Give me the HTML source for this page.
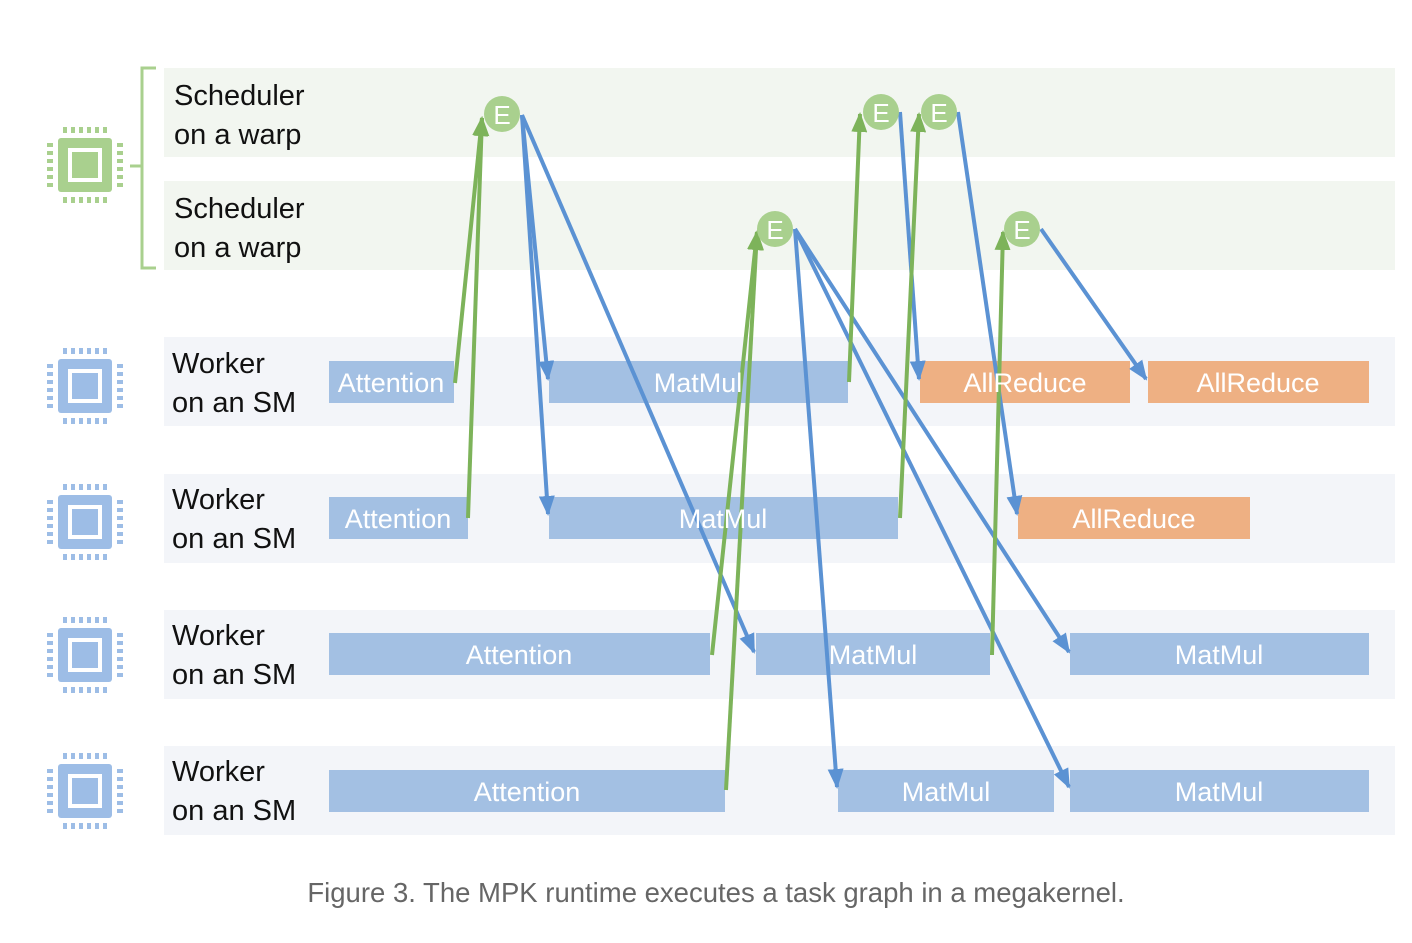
<!DOCTYPE html>
<html><head><meta charset="utf-8"><style>
body{margin:0;background:#fff;}
svg text{font-family:"Liberation Sans",sans-serif;}
</style></head><body>
<svg width="1412" height="938" viewBox="0 0 1412 938" xmlns="http://www.w3.org/2000/svg">
<defs>
<marker id="ag" markerWidth="20" markerHeight="16" refX="18" refY="8" orient="auto" markerUnits="userSpaceOnUse" viewBox="0 0 20 16"><path d="M0,0 L20,8 L0,16 z" fill="#7db35a"/></marker>
<marker id="ab" markerWidth="20" markerHeight="16" refX="18" refY="8" orient="auto" markerUnits="userSpaceOnUse" viewBox="0 0 20 16"><path d="M0,0 L20,8 L0,16 z" fill="#5b92d3"/></marker>
<g id="chip">
<rect x="-27" y="-27" width="54" height="54" rx="3"/>
<rect x="-17" y="-17" width="34" height="34" fill="#fff"/>
<rect x="-13" y="-13" width="26" height="26"/>
<g>
<rect x="-22" y="-38" width="4" height="6"/><rect x="-14" y="-38" width="4" height="6"/><rect x="-6" y="-38" width="4" height="6"/><rect x="2" y="-38" width="4" height="6"/><rect x="10" y="-38" width="4" height="6"/><rect x="18" y="-38" width="4" height="6"/>
<rect x="-22" y="32" width="4" height="6"/><rect x="-14" y="32" width="4" height="6"/><rect x="-6" y="32" width="4" height="6"/><rect x="2" y="32" width="4" height="6"/><rect x="10" y="32" width="4" height="6"/><rect x="18" y="32" width="4" height="6"/>
<rect x="-38" y="-22" width="6" height="4"/><rect x="-38" y="-14" width="6" height="4"/><rect x="-38" y="-6" width="6" height="4"/><rect x="-38" y="2" width="6" height="4"/><rect x="-38" y="10" width="6" height="4"/><rect x="-38" y="18" width="6" height="4"/>
<rect x="32" y="-22" width="6" height="4"/><rect x="32" y="-14" width="6" height="4"/><rect x="32" y="-6" width="6" height="4"/><rect x="32" y="2" width="6" height="4"/><rect x="32" y="10" width="6" height="4"/><rect x="32" y="18" width="6" height="4"/>
</g>
</g>
</defs>

<rect x="164" y="68" width="1231" height="89" fill="#f2f6f0"/>
<rect x="164" y="181" width="1231" height="89" fill="#f2f6f0"/>
<rect x="164" y="337" width="1231" height="89" fill="#f3f5f9"/>
<rect x="164" y="474" width="1231" height="89" fill="#f3f5f9"/>
<rect x="164" y="610" width="1231" height="89" fill="#f3f5f9"/>
<rect x="164" y="746" width="1231" height="89" fill="#f3f5f9"/>

<use href="#chip" x="85" y="165" fill="#a9d08e"/>
<use href="#chip" x="85" y="386" fill="#9dbde6"/>
<use href="#chip" x="85" y="522" fill="#9dbde6"/>
<use href="#chip" x="85" y="655" fill="#9dbde6"/>
<use href="#chip" x="85" y="791" fill="#9dbde6"/>

<path d="M156,68 L142,68 L142,268 L156,268 M142,166 L130,166" fill="none" stroke="#a9d08e" stroke-width="3"/>

<g font-size="29" fill="#111">
<text x="174" y="105">Scheduler</text><text x="174" y="144">on a warp</text>
<text x="174" y="218">Scheduler</text><text x="174" y="257">on a warp</text>
<text x="172" y="373">Worker</text><text x="172" y="412">on an SM</text>
<text x="172" y="509">Worker</text><text x="172" y="548">on an SM</text>
<text x="172" y="645">Worker</text><text x="172" y="684">on an SM</text>
<text x="172" y="781">Worker</text><text x="172" y="820">on an SM</text>
</g>

<g fill="#a3c0e3">
<rect x="329" y="361" width="125" height="42"/>
<rect x="549" y="361" width="299" height="42"/>
<rect x="329" y="497" width="139" height="42"/>
<rect x="549" y="497" width="349" height="42"/>
<rect x="329" y="633" width="381" height="42"/>
<rect x="756" y="633" width="234" height="42"/>
<rect x="1070" y="633" width="299" height="42"/>
<rect x="329" y="770" width="396" height="42"/>
<rect x="838" y="770" width="216" height="42"/>
<rect x="1070" y="770" width="299" height="42"/>
</g>
<g fill="#eeb083">
<rect x="920" y="361" width="210" height="42"/>
<rect x="1148" y="361" width="221" height="42"/>
<rect x="1018" y="497" width="232" height="42"/>
</g>

<g stroke="#5b92d3" stroke-width="4" fill="none" marker-end="url(#ab)">
<line x1="522" y1="115" x2="548" y2="379"/>
<line x1="522" y1="115" x2="548" y2="514"/>
<line x1="522" y1="115" x2="754" y2="652"/>
<line x1="900" y1="112" x2="919" y2="379"/>
<line x1="958" y1="112" x2="1017" y2="514"/>
<line x1="795" y1="229" x2="837" y2="787"/>
<line x1="795" y1="229" x2="1069" y2="652"/>
<line x1="795" y1="229" x2="1069" y2="787"/>
<line x1="1041" y1="229" x2="1146" y2="379"/>
</g>
<g stroke="#7db35a" stroke-width="4" fill="none" marker-end="url(#ag)">
<line x1="455" y1="383" x2="482" y2="118"/>
<line x1="468" y1="518" x2="482" y2="118"/>
<line x1="849" y1="382" x2="860" y2="114"/>
<line x1="900" y1="518" x2="919" y2="114"/>
<line x1="712" y1="655" x2="757" y2="232"/>
<line x1="726" y1="790" x2="757" y2="232"/>
<line x1="992" y1="655" x2="1003" y2="232"/>
</g>

<g font-size="27" fill="#fff" text-anchor="middle">
<text x="391" y="392">Attention</text>
<text x="698" y="392">MatMul</text>
<text x="1025" y="392">AllReduce</text>
<text x="1258" y="392">AllReduce</text>
<text x="398" y="528">Attention</text>
<text x="723" y="528">MatMul</text>
<text x="1134" y="528">AllReduce</text>
<text x="519" y="664">Attention</text>
<text x="873" y="664">MatMul</text>
<text x="1219" y="664">MatMul</text>
<text x="527" y="801">Attention</text>
<text x="946" y="801">MatMul</text>
<text x="1219" y="801">MatMul</text>
</g>

<g fill="#a9d08e">
<circle cx="502" cy="114" r="18"/><circle cx="881" cy="112" r="18"/><circle cx="939" cy="112" r="18"/>
<circle cx="775" cy="229" r="18"/><circle cx="1022" cy="229" r="18"/>
</g>
<g font-size="26" fill="#fff" text-anchor="middle">
<text x="502" y="124">E</text><text x="881" y="122">E</text><text x="939" y="122">E</text>
<text x="775" y="239">E</text><text x="1022" y="239">E</text>
</g>

<text x="716" y="902" font-size="27.5" fill="#666" text-anchor="middle">Figure 3. The MPK runtime executes a task graph in a megakernel.</text>
</svg>
</body></html>
